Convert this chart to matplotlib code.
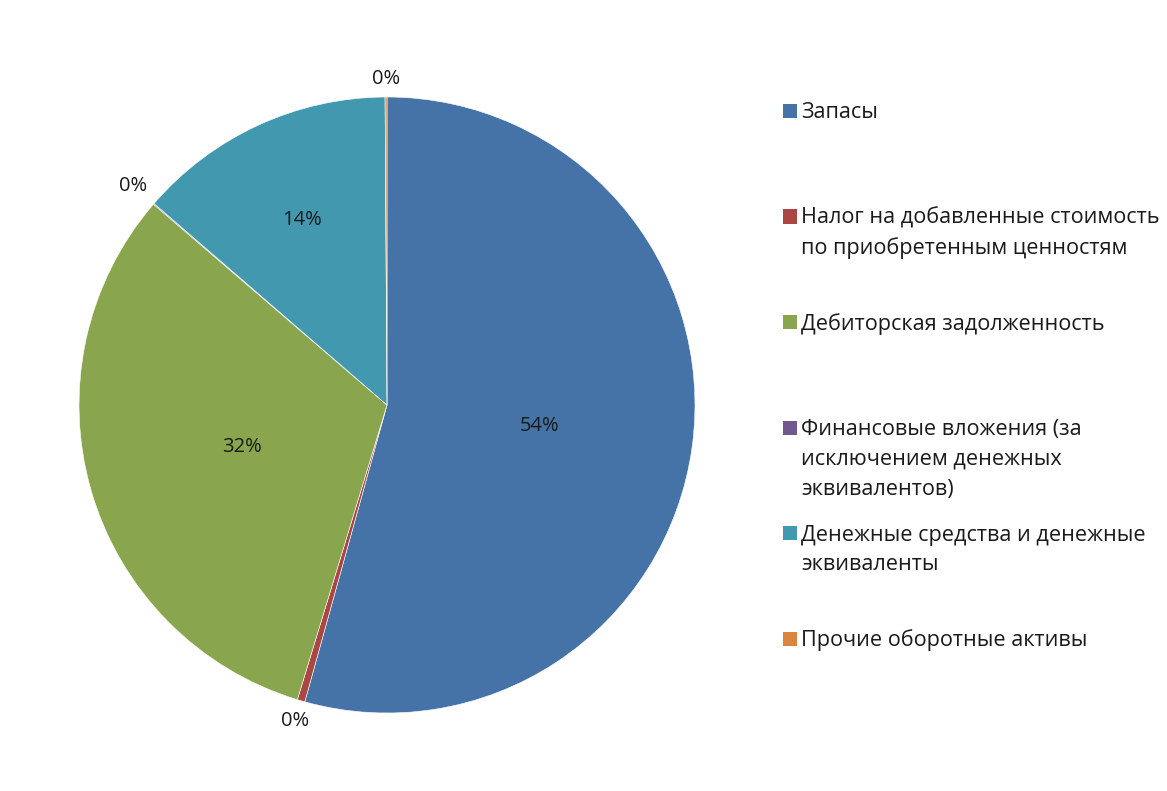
import numpy as np
import matplotlib.pyplot as plt
from matplotlib.patches import Rectangle

plt.rcParams['font.family'] = ['Open Sans', 'DejaVu Sans']

# structure of current assets, %
categories = [
    "Запасы",
    "Налог на добавленные стоимость\nпо приобретенным ценностям",
    "Дебиторская задолженность",
    "Финансовые вложения (за\nисключением денежных\nэквивалентов)",
    "Денежные средства и денежные\nэквиваленты",
    "Прочие оборотные активы",
]
shares = [54.3, 0.4, 31.6, 0.05, 13.55, 0.1]
colors = ["#4572A7", "#AA4643", "#89A54E", "#71588F", "#4198AF", "#DB843D"]

# radial position of each percentage label (fraction of radius)
label_dist = [0.50, 1.07, 0.49, 1.09, 0.66, 1.06]

W, H = 1167, 791
fig = plt.figure(figsize=(W / 100, H / 100), dpi=100)
fig.patch.set_facecolor("white")

cx, cy, r = 387, H - 405, 308
half = 340
ax = fig.add_axes([(cx - half) / W, (cy - half) / H, 2 * half / W, 2 * half / H])
ax.pie(shares, colors=colors, startangle=90, counterclock=False, radius=1,
       wedgeprops=dict(edgecolor="white", linewidth=0.4))
lim = half / r
ax.set_xlim(-lim, lim)
ax.set_ylim(-lim, lim)
ax.axis("off")

total = sum(shares)
cum = np.cumsum([0] + shares[:-1])
for v, c0, d in zip(shares, cum, label_dist):
    theta = np.deg2rad(90 - 360 * (c0 + v / 2) / total)
    ax.text(d * np.cos(theta), d * np.sin(theta), f"{v / total * 100:.0f}%",
            ha="center", va="center", fontsize=14.5, color="#1a1a1a")

# legend on the right
first_y, step, line_h = 111, 105.5, 30
for i, (name, col) in enumerate(zip(categories, colors)):
    yc = first_y + i * step
    fig.patches.append(Rectangle((783 / W, 1 - (yc + 7) / H), 14 / W, 14 / H,
                                 transform=fig.transFigure, facecolor=col,
                                 edgecolor="none"))
    for k, line in enumerate(name.split("\n")):
        yl = yc + k * line_h + 7.5
        fig.text(801 / W, 1 - yl / H, line, ha="left", va="baseline",
                 fontsize=15.6, color="#1a1a1a")

fig.savefig("out.png", dpi=100, facecolor="white")
